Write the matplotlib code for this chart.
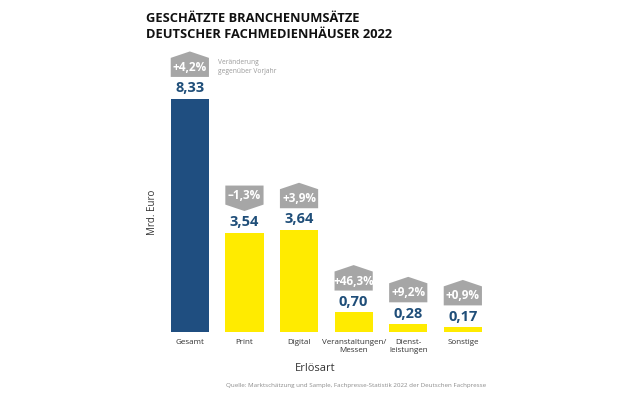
import matplotlib
matplotlib.use("Agg")
import matplotlib.pyplot as plt
from matplotlib.patches import Polygon

plt.rcParams["font.family"] = ["Open Sans", "DejaVu Sans"]

categories = ["Gesamt", "Print", "Digital", "Veranstaltungen/\nMessen",
              "Dienst-\nleistungen", "Sonstige"]
values = [8.33, 3.54, 3.64, 0.70, 0.28, 0.17]
value_labels = ["8,33", "3,54", "3,64", "0,70", "0,28", "0,17"]
changes = [4.2, -1.3, 3.9, 46.3, 9.2, 0.9]
change_labels = ["+4,2%", "\u20131,3%", "+3,9%", "+46,3%", "+9,2%", "+0,9%"]

BLUE = "#1f4e80"
YELLOW = "#ffeb00"
GREY = "#a6a6a6"
TEXT_BLUE = "#1f4e79"

fig = plt.figure(figsize=(6.3, 4.0), dpi=100)
ax = fig.add_axes([0.258, 0.17, 0.52, 0.7175])

colors = [BLUE] + [YELLOW] * (len(values) - 1)
x = list(range(len(values)))
w = 0.7
ax.bar(x, values, width=w, color=colors)

for xi, v, lab, ch, chl in zip(x, values, value_labels, changes, change_labels):
    ax.text(xi, v + 0.38, lab, ha="center", va="center",
            fontsize=10.5, fontweight="bold", color=TEXT_BLUE)
    h, tip = 0.68, 0.23
    if ch >= 0:
        b0 = v + 0.78
        b1 = b0 + h
        pts = [(xi - w / 2, b0), (xi + w / 2, b0), (xi + w / 2, b1),
               (xi, b1 + tip), (xi - w / 2, b1)]
    else:
        b0 = v + 0.78 + tip
        b1 = b0 + h
        pts = [(xi - w / 2, b0), (xi, b0 - tip), (xi + w / 2, b0),
               (xi + w / 2, b1), (xi - w / 2, b1)]
    ax.add_patch(Polygon(pts, closed=True, facecolor=GREY, edgecolor="none"))
    ax.text(xi, (b0 + b1) / 2, chl, ha="center", va="center",
            fontsize=8.5, fontweight="bold", color="white",
            family=["Liberation Sans Narrow", "Open Sans"])

ax.text(0.52, values[0] + 1.13, "Veränderung\ngegenüber Vorjahr",
        ha="left", va="center", fontsize=4.8, color="#9a9a9a",
        linespacing=1.35)

ax.set_xlim(-0.5, len(values) - 0.5)
ax.set_ylim(0, 10.25)
ax.set_xticks(x)
ax.set_xticklabels(categories, fontsize=5.8, color="#333333", linespacing=1.3)
ax.tick_params(axis="x", length=0, pad=5)
ax.set_yticks([])
for s in ax.spines.values():
    s.set_visible(False)

ax.set_xlabel("Erlösart", fontsize=8, color="#333333")
ax.xaxis.set_label_coords((315 - 162.7) / 327.6, -(363 - 332) / 287)
ax.set_ylabel("Mrd. Euro", fontsize=7, color="#333333")
ax.yaxis.set_label_coords(-(162.7 - 158) / 327.6, (332 - 212) / 287)

fig.text(146 / 630, 1 - 12 / 400,
         "GESCHÄTZTE BRANCHENUMSÄTZE\nDEUTSCHER FACHMEDIENHÄUSER 2022",
         ha="left", va="top", fontsize=9.3, fontweight="bold",
         color="#111111", linespacing=1.25)

fig.text(356 / 630, 1 - 386 / 400,
         "Quelle: Marktschätzung und Sample, Fachpresse-Statistik 2022 der Deutschen Fachpresse",
         ha="center", va="center", fontsize=4.5, color="#8c8c8c")

fig.savefig("out.png", dpi=100)
